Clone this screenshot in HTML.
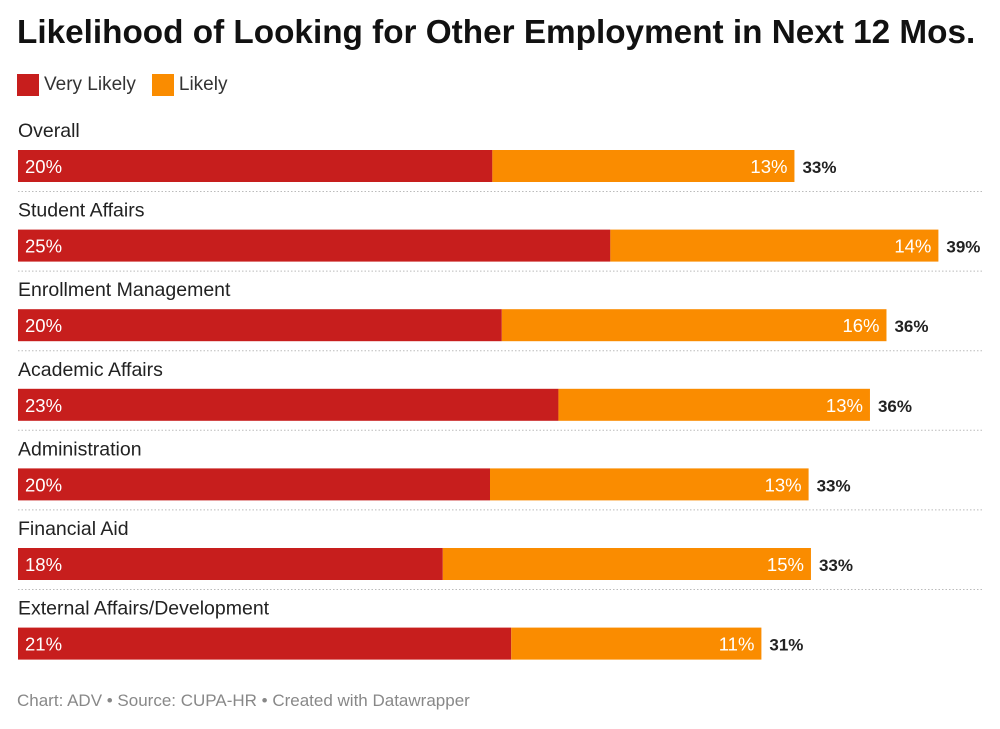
<!DOCTYPE html>
<html><head><meta charset="utf-8">
<style>
body{margin:0;background:#fff;width:1000px;height:729px;overflow:hidden;font-family:"Liberation Sans",Arial,sans-serif;}
.title{position:absolute;left:17px;top:14px;font-size:33.3px;font-weight:bold;color:#111;white-space:nowrap;}
.legend{position:absolute;left:17px;top:74px;font-size:19px;color:#333;display:flex;align-items:center;}
.sw{width:22px;height:22px;display:inline-block;margin-right:5px;}
.foot{position:absolute;left:17px;top:691px;font-size:17px;color:#888;white-space:nowrap;}
</style></head><body>
<div class="title">Likelihood of Looking for Other Employment in Next 12 Mos.</div>
<div class="legend">
<span class="sw" style="background:#c71e1d"></span><span style="margin-right:16px">Very Likely</span>
<span class="sw" style="background:#fa8c00"></span><span>Likely</span>
</div>
<svg id="chart" width="1000" height="729" style="position:absolute;left:0;top:0"></svg>
<div class="foot">Chart: ADV • Source: CUPA-HR • Created with Datawrapper</div>
<script>
const categories=["Overall","Student Affairs","Enrollment Management","Academic Affairs","Administration","Financial Aid","External Affairs/Development"];
const veryLikely=[20.1,25.1,20.5,22.9,20.0,18.0,20.9];
const likely=[12.8,13.9,16.3,13.2,13.5,15.6,10.6];
const veryLabels=["20%","25%","20%","23%","20%","18%","21%"];
const likelyLabels=["13%","14%","16%","13%","13%","15%","11%"];
const totalLabels=["33%","39%","36%","36%","33%","33%","31%"];
const svg=document.getElementById('chart');
const NS='http://www.w3.org/2000/svg';
const x0=18, scale=23.6, top0=150, pitch=79.6, bh=32;
const xs=v=>x0+v*scale;
function mk(tag,attrs,txt){const e=document.createElementNS(NS,tag);for(const k in attrs)e.setAttribute(k,attrs[k]);if(txt!==undefined)e.textContent=txt;svg.appendChild(e);return e;}
categories.forEach((c,i)=>{
  const y=top0+i*pitch;
  let t=mk('text',{x:18,y:y-13,'font-size':19.5,fill:'#222'},c);
  
  
  const xr=xs(veryLikely[i]), xo=xs(veryLikely[i]+likely[i]);
  let r=mk('rect',{x:x0,y:y,width:xr-x0,height:bh,fill:'#c71e1d'});
  
  
  let o=mk('rect',{x:xr,y:y,width:xo-xr,height:bh,fill:'#fa8c00'});
  
  
  let a=mk('text',{x:25,y:y+23,'font-size':18.5,fill:'#fff'},veryLabels[i]);
  
  
  let b=mk('text',{x:xo-7,y:y+23,'font-size':18.5,fill:'#fff','text-anchor':'end'},likelyLabels[i]);
  
  
  let s=mk('text',{x:xo+8,y:y+23,'font-size':17,'font-weight':'bold',fill:'#222'},totalLabels[i]);
  
  
  if(i<categories.length-1){
    let l=mk('line',{x1:18,x2:982,y1:y+41.5,y2:y+41.5,stroke:'#bbb','stroke-dasharray':'1.5,2'});
    
    
  }
});
</script>
</body></html>
